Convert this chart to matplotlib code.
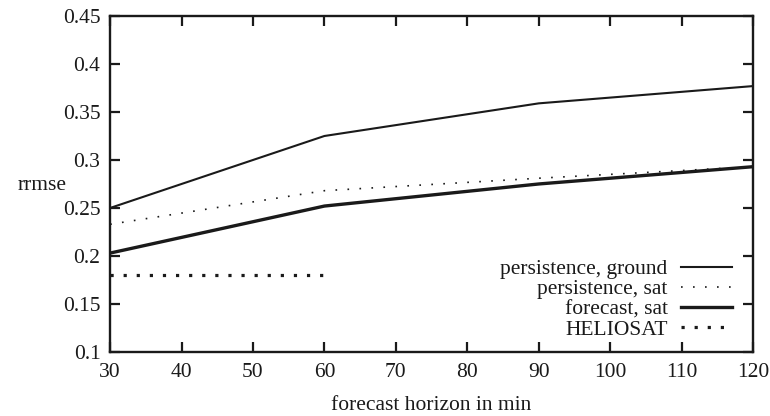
import matplotlib

matplotlib.use("Agg")
import matplotlib.pyplot as plt

# forecast horizon (min) and rrmse values
horizon = [30, 60, 90, 120]
persistence_ground = [0.250, 0.325, 0.359, 0.377]
persistence_sat = [0.233, 0.268, 0.281, 0.293]
forecast_sat = [0.203, 0.252, 0.275, 0.293]
heliosat_horizon = [30, 60]
heliosat = [0.180, 0.180]

x_ticks = [30, 40, 50, 60, 70, 80, 90, 100, 110, 120]
y_ticks = [0.1, 0.15, 0.2, 0.25, 0.3, 0.35, 0.4, 0.45]
y_tick_labels = ["0.1", "0.15", "0.2", "0.25", "0.3", "0.35", "0.4", "0.45"]

plt.rcParams["font.family"] = ["Liberation Serif", "DejaVu Serif"]
plt.rcParams["font.size"] = 15.5

fig = plt.figure(figsize=(7.7, 4.16), dpi=100)
ax = fig.add_axes([0.143, 0.154, 0.835, 0.8075])

ax.plot(horizon, persistence_ground, color="#1a1a1a", lw=1.5,
        label="persistence, ground")
ax.plot(horizon, persistence_sat, color="#1a1a1a", lw=1.2,
        linestyle=(0, (1, 6.2)), label="persistence, sat")
ax.plot(horizon, forecast_sat, color="#1a1a1a", lw=2.4,
        label="forecast, sat")
ax.plot(heliosat_horizon, heliosat, color="#1a1a1a", lw=2.3,
        linestyle=(0, (1, 3.1)), label="HELIOSAT")

ax.set_xlim(30, 120)
ax.set_ylim(0.1, 0.45)
ax.set_xticks(x_ticks)
ax.set_yticks(y_ticks)
ax.set_yticklabels(y_tick_labels)

# gnuplot-like inward ticks mirrored on all sides
ax.tick_params(direction="in", length=7, width=1.6, top=True, right=True,
               colors="#1a1a1a", pad=7)
ax.tick_params(axis="x", pad=8)
for sp in ax.spines.values():
    sp.set_linewidth(1.7)
    sp.set_color("#1a1a1a")

ax.set_xlabel("forecast horizon in min", labelpad=10, color="#1a1a1a")
ax.set_ylabel("rrmse", rotation=0, va="center", color="#1a1a1a")
ax.yaxis.set_label_coords(-0.105, 0.495)

leg = ax.legend(loc="lower right", bbox_to_anchor=(0.981, 0.011),
                frameon=False, markerfirst=False, handlelength=2.4,
                labelspacing=0.0, handletextpad=0.6, borderpad=0,
                borderaxespad=0.4, fontsize=15.5)
for t in leg.get_texts():
    t.set_ha("right")
    t.set_color("#1a1a1a")
leg._legend_box.align = "right"

fig.savefig("out.png", dpi=100)
plt.close(fig)
